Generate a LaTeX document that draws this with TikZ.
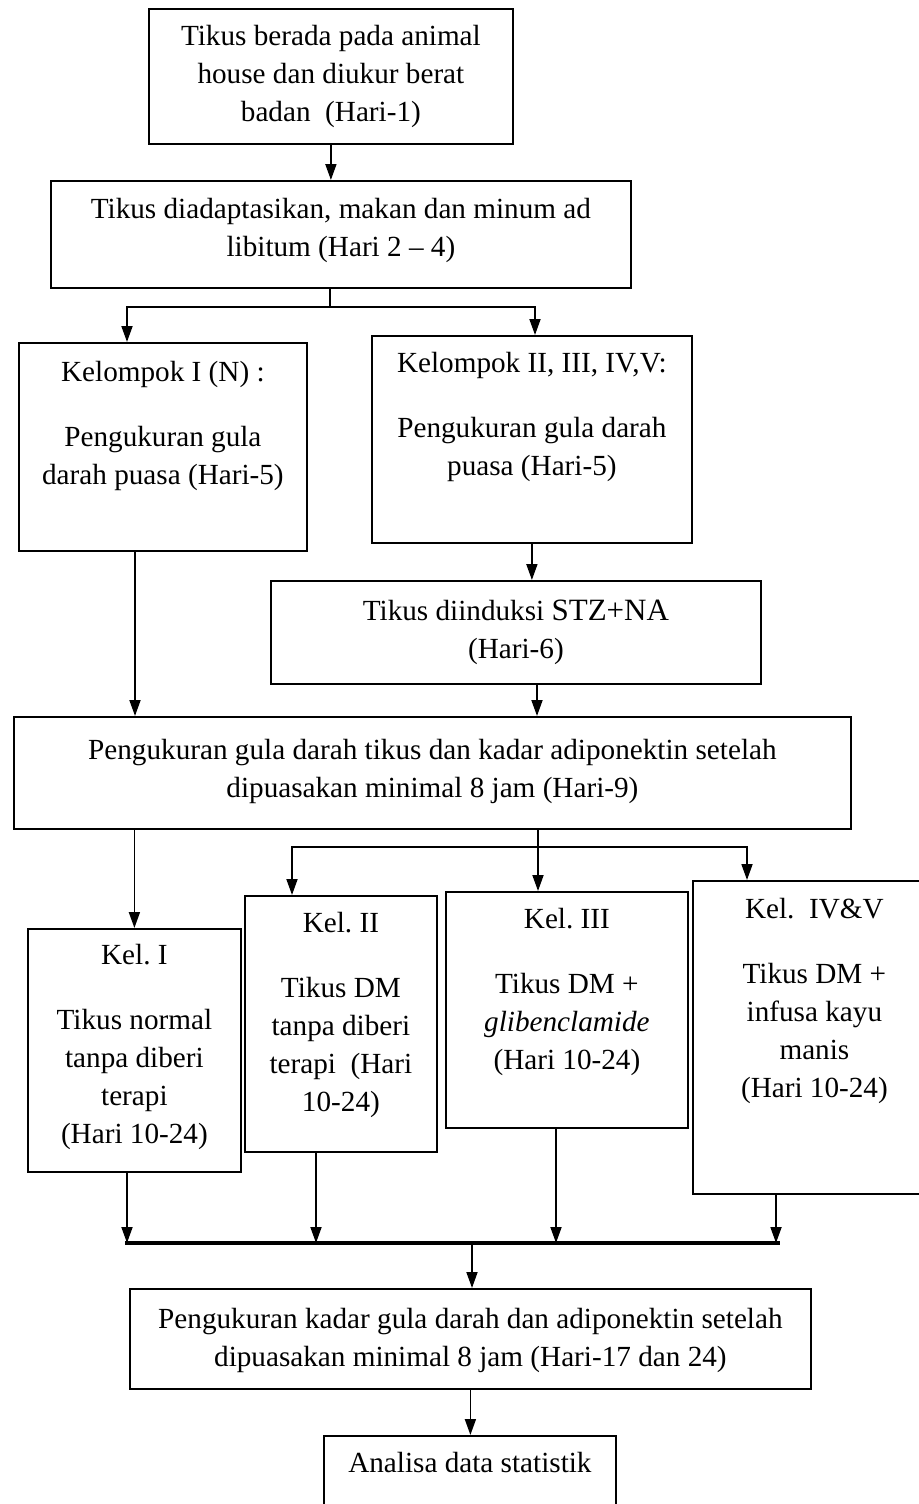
\documentclass[tikz,border=0pt]{standalone}
\usepackage{fontspec}
\setmainfont{Liberation Serif}
\usetikzlibrary{positioning,arrows.meta}

\begin{document}
\begin{tikzpicture}[x=0.5pt,y=-0.5pt]
\tikzstyle{box}=[draw, line width=0.9pt, rectangle, anchor=north west, inner sep=0pt]
\tikzstyle{txt}=[align=center, inner sep=0pt, font=\fontsize{14.6}{19}\selectfont]
\tikzstyle{arr}=[line width=0.9pt, -{Triangle[length=8pt,width=5.5pt]}]
\useasboundingbox (0,0) rectangle (919,1504);

% boxes
\node[box, minimum width=182pt, minimum height=67.5pt] (tikus) at (148,8) {};
\node[box, minimum width=290pt, minimum height=53.5pt] (adapt) at (50,180) {};
\node[box, minimum width=144pt, minimum height=104pt] (kel1n) at (18,342) {};
\node[box, minimum width=160pt, minimum height=103.5pt] (kel2n) at (371,335) {};
\node[box, minimum width=245pt, minimum height=51.5pt] (induksi) at (270,580) {};
\node[box, minimum width=418.5pt, minimum height=56pt] (ukur1) at (13,716) {};
\node[box, minimum width=106.5pt, minimum height=121.5pt] (kelI) at (27,928) {};
\node[box, minimum width=96pt, minimum height=128pt] (kelII) at (244,895) {};
\node[box, minimum width=121pt, minimum height=118pt] (kelIII) at (445,891) {};
\node[box, minimum width=121.5pt, minimum height=156.5pt] (kelIV) at (692,880) {};
\node[box, minimum width=340.5pt, minimum height=50pt] (ukur2) at (129,1288) {};
\node[box, minimum width=146pt, minimum height=42.5pt] (analisa) at (323,1435) {};

% texts
\node[txt, below=8.5pt of tikus.north] (tikus-t) {Tikus berada pada animal\\house dan diukur berat\\badan \ (Hari-1)};
\node[txt, below=9pt of adapt.north] (adapt-t) {Tikus diadaptasikan, makan dan minum ad\\libitum (Hari 2 -- 4)};
\node[txt, below=9.5pt of kel1n.north] (kel1n-t) {Kelompok I (N) :\\[13.5pt]Pengukuran gula\\darah puasa (Hari-5)};
\node[txt, below=8.5pt of kel2n.north] (kel2n-t) {Kelompok II, III, IV,V:\\[13.5pt]Pengukuran gula darah\\puasa (Hari-5)};
\node[txt, below=10pt of induksi.north] (induksi-t) {Tikus diinduksi {\fontsize{15.5}{19}\selectfont STZ+NA}\\(Hari-6)};
\node[txt, below=11.5pt of ukur1.north] (ukur1-t) {Pengukuran gula darah tikus dan kadar adiponektin setelah\\dipuasakan minimal 8 jam (Hari-9)};
\node[txt, below=8pt of kelI.north] (kelI-t) {Kel.\ I\\[13.5pt]Tikus normal\\tanpa diberi\\terapi\\(Hari 10-24)};
\node[txt, below=8.5pt of kelII.north] (kelII-t) {Kel.\ II\\[13.5pt]Tikus DM\\tanpa diberi\\terapi \ (Hari\\10-24)};
\node[txt, below=8.5pt of kelIII.north] (kelIII-t) {Kel.\ III\\[13.5pt]Tikus DM +\\\textit{glibenclamide}\\(Hari 10-24)};
\node[txt, below=9pt of kelIV.north] (kelIV-t) {Kel.\ \ IV\&V\\[13.5pt]Tikus DM +\\infusa kayu\\manis\\(Hari 10-24)};
\node[txt, below=10pt of ukur2.north] (ukur2-t) {Pengukuran kadar gula darah dan adiponektin setelah\\dipuasakan minimal 8 jam (Hari-17 dan 24)};
\node[txt, below=8.5pt of analisa.north] (analisa-t) {Analisa data statistik};

% branch points
\coordinate (s1) at (330,307);
\coordinate (t1) at (127,307);
\coordinate (t2) at (535,307);
\coordinate (c1) at (135,0);
\coordinate (c2) at (537,0);
\coordinate (s2) at (538,847);
\coordinate (u2) at (292,847);
\coordinate (u4) at (747,847);
\coordinate (b1) at (127,1243);
\coordinate (b2) at (316,1243);
\coordinate (b3) at (556,1243);
\coordinate (b4) at (776,1243);
\coordinate (b0) at (472,1243);
\coordinate (busL) at (125,1243);
\coordinate (busR) at (780,1243);

% connectors
\draw[arr] (tikus.south) -- (tikus.south |- adapt.north);
\draw[line width=0.9pt] (s1 |- adapt.south) -- (s1);
\draw[arr] (s1) -| (t1 |- kel1n.north);
\draw[arr] (s1) -| (t2 |- kel2n.north);
\draw[arr] (kel2n.south) -- (kel2n.south |- induksi.north);
\draw[arr] (c1 |- kel1n.south) -- (c1 |- ukur1.north);
\draw[arr] (c2 |- induksi.south) -- (c2 |- ukur1.north);
\draw[arr] (kelI.north |- ukur1.south) -- (kelI.north);
\draw[arr] (s2 |- ukur1.south) -- (s2 |- kelIII.north);
\draw[arr] (s2) -| (u2 |- kelII.north);
\draw[arr] (s2) -| (u4 |- kelIV.north);
\draw[arr] (b1 |- kelI.south) -- (b1);
\draw[arr] (b2 |- kelII.south) -- (b2);
\draw[arr] (b3 |- kelIII.south) -- (b3);
\draw[arr] (b4 |- kelIV.south) -- (b4);
\draw[line width=1.6pt] (busL) -- (busR);
\draw[arr] (b0) -- (b0 |- ukur2.north);
\draw[arr] (ukur2.south) -- (ukur2.south |- analisa.north);
\end{tikzpicture}
\end{document}
